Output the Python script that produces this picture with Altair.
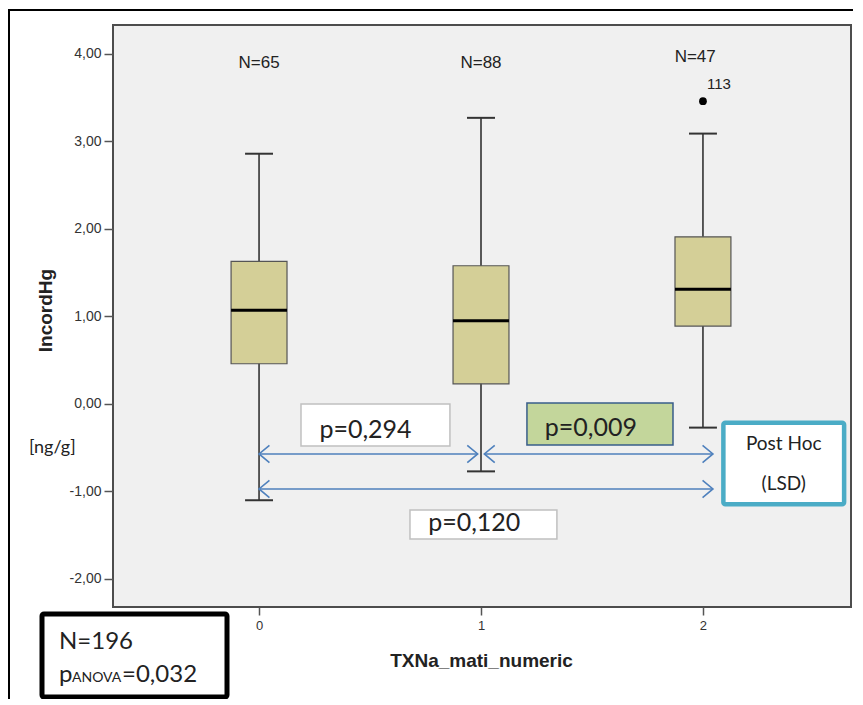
import altair as alt
import pandas as pd

# ---------------- data ----------------
groups = [0, 1, 2]
n_labels = ["N=65", "N=88", "N=47"]
whisker_low = [-1.10, -0.77, -0.27]
q1 = [0.46, 0.23, 0.89]
median = [1.07, 0.95, 1.31]
q3 = [1.63, 1.58, 1.91]
whisker_high = [2.86, 3.27, 3.09]

outlier_group = [2]
outlier_value = [3.46]
outlier_label = ["113"]

y_ticks = [-2, -1, 0, 1, 2, 3, 4]
x_ticks = [0, 1, 2]

pvalue_labels = ["p=0,294", "p=0,009", "p=0,120"]
comparison_from = [0, 1, 0]
comparison_to = [1, 2, 2]
total_n = "N=196"
anova_p = "=0,032"

# ---------------- layout constants (data units) ----------------
X_DOMAIN = [-0.658, 2.667]
Y_DOMAIN = [-2.32, 4.331]
BOX_HALF = 0.126
CAP_HALF = 0.063
n_label_x = [0.0, 1.0, 1.965]
n_label_y = [3.90, 3.90, 3.97]
pbox_x1 = [0.189, 1.207, 0.680]
pbox_x2 = [0.860, 1.865, 1.342]
pbox_y1 = [0.0, 0.011, -1.211]
pbox_y2 = [-0.48, -0.469, -1.543]
ptext_x = [0.272, 1.287, 0.762]
ptext_y = [-0.30, -0.28, -1.36]
pbox_fill = ["#ffffff", "#c3d69b", "#ffffff"]
pbox_stroke = ["#c0c0c0", "#385d8a", "#c0c0c0"]
arrow_y = [-0.571, -0.571, -0.971]
arrow_x_start = [0.0, 1.015, 0.0]
arrow_x_end = [0.985, 2.045, 2.045]

FONT = "Liberation Sans"
CAL = "Lato"
BLUE = "#4f81bd"

xs = alt.Scale(domain=X_DOMAIN, nice=False, zero=False)
ys = alt.Scale(domain=Y_DOMAIN, nice=False, zero=False)

box_df = pd.DataFrame({
    "group": groups, "lo": whisker_low, "q1": q1, "med": median,
    "q3": q3, "hi": whisker_high, "n": n_labels,
    "nx": n_label_x, "ny": n_label_y,
})
box_df["xl"] = box_df["group"] - BOX_HALF
box_df["xr"] = box_df["group"] + BOX_HALF
box_df["cl"] = box_df["group"] - CAP_HALF
box_df["cr"] = box_df["group"] + CAP_HALF

base = alt.Chart(box_df)

whisker = base.mark_rule(color="#333333", strokeWidth=1.6).encode(
    x=alt.X("group:Q", scale=xs, axis=alt.Axis(
        values=x_ticks, format="d", title="TXNa_mati_numeric",
        tickSize=8, tickColor="#555555", tickWidth=1.5, domain=False, grid=False,
        labelFont=FONT, labelFontSize=13, labelColor="#333333", labelPadding=4,
        titleFont=FONT, titleFontSize=19, titleFontWeight="bold", titleColor="#222222",
        titleX=368, titleY=53, titleBaseline="middle", titleAlign="center")),
    y=alt.Y("lo:Q", scale=ys, axis=alt.Axis(
        values=y_ticks, title="IncordHg",
        labelExpr="(datum.value < 0 ? '-' : '') + replace(format(abs(datum.value), '.2f'), '.', ',')",
        tickSize=9, tickColor="#555555", tickWidth=1.5, domain=False, grid=False,
        labelFont=FONT, labelFontSize=14, labelColor="#333333", labelPadding=3,
        titleFont=FONT, titleFontSize=19, titleFontWeight="bold", titleColor="#222222",
        titleX=-68, titleY=285, titleAngle=-90, titleBaseline="middle", titleAlign="center")),
    y2="hi:Q",
)
cap_lo = base.mark_rule(color="#333333", strokeWidth=2).encode(
    x=alt.X("cl:Q", scale=xs), x2="cr:Q", y=alt.Y("lo:Q", scale=ys))
cap_hi = base.mark_rule(color="#333333", strokeWidth=2).encode(
    x=alt.X("cl:Q", scale=xs), x2="cr:Q", y=alt.Y("hi:Q", scale=ys))
boxes = base.mark_rect(fill="#d4cf97", stroke="#555555", strokeWidth=1.2).encode(
    x=alt.X("xl:Q", scale=xs), x2="xr:Q", y=alt.Y("q1:Q", scale=ys), y2="q3:Q")
med = base.mark_rule(color="#000000", strokeWidth=3).encode(
    x=alt.X("xl:Q", scale=xs), x2="xr:Q", y=alt.Y("med:Q", scale=ys))
ntext = base.mark_text(font=FONT, fontSize=17, color="#222222", baseline="middle").encode(
    x=alt.X("nx:Q", scale=xs), y=alt.Y("ny:Q", scale=ys), text="n:N")

out_df = pd.DataFrame({"g": outlier_group, "v": outlier_value, "lab": outlier_label})
outlier = alt.Chart(out_df).mark_point(filled=True, color="#000000", size=60, opacity=1).encode(
    x=alt.X("g:Q", scale=xs), y=alt.Y("v:Q", scale=ys))
outlier_txt = alt.Chart(out_df).mark_text(font=FONT, fontSize=15, color="#222222",
                                          align="left", dx=4, dy=-17).encode(
    x=alt.X("g:Q", scale=xs), y=alt.Y("v:Q", scale=ys), text="lab:N")

# ---------- p-value annotation boxes ----------
p_df = pd.DataFrame({
    "label": pvalue_labels, "x1": pbox_x1, "x2": pbox_x2, "y1": pbox_y1, "y2": pbox_y2,
    "tx": ptext_x, "ty": ptext_y, "fill": pbox_fill, "stroke": pbox_stroke,
})
p_rect = alt.Chart(p_df).mark_rect(strokeWidth=1.5).encode(
    x=alt.X("x1:Q", scale=xs), x2="x2:Q", y=alt.Y("y1:Q", scale=ys), y2="y2:Q",
    fill=alt.Fill("fill:N", scale=None), stroke=alt.Stroke("stroke:N", scale=None))
p_text = alt.Chart(p_df).mark_text(font=CAL, fontSize=25, color="#222222",
                                   align="left", baseline="middle").encode(
    x=alt.X("tx:Q", scale=xs), y=alt.Y("ty:Q", scale=ys), text="label:N")

# ---------- arrows ----------
a_df = pd.DataFrame({"x1": arrow_x_start, "x2": arrow_x_end, "y": arrow_y,
                     "frm": comparison_from, "to": comparison_to})
a_line = alt.Chart(a_df).mark_rule(color=BLUE, strokeWidth=1.6).encode(
    x=alt.X("x1:Q", scale=xs), x2="x2:Q", y=alt.Y("y:Q", scale=ys))
a_right = alt.Chart(a_df).mark_point(
    shape="M-1.2,-1L0,0L-1.2,1", filled=False, color=BLUE, strokeWidth=1.6,
    size=300, opacity=1).encode(x=alt.X("x2:Q", scale=xs), y=alt.Y("y:Q", scale=ys))
a_left = alt.Chart(a_df).mark_point(
    shape="M1.2,-1L0,0L1.2,1", filled=False, color=BLUE, strokeWidth=1.6,
    size=300, opacity=1).encode(x=alt.X("x1:Q", scale=xs), y=alt.Y("y:Q", scale=ys))

# ---------- Post Hoc box ----------
ph_df = pd.DataFrame({"x1": [2.092], "x2": [2.636], "y1": [-0.215], "y2": [-1.145]})
ph_rect = alt.Chart(ph_df).mark_rect(fill="#ffffff", stroke="#4bacc6", strokeWidth=4.5,
                                     cornerRadius=2).encode(
    x=alt.X("x1:Q", scale=xs), x2="x2:Q", y=alt.Y("y1:Q", scale=ys), y2="y2:Q")
ph_txt_df = pd.DataFrame({"t": ["Post Hoc", "(LSD)"], "x": [2.364, 2.364], "y": [-0.455, -0.91]})
ph_txt = alt.Chart(ph_txt_df).mark_text(font=CAL, fontSize=19, color="#222222",
                                        baseline="middle").encode(
    x=alt.X("x:Q", scale=xs), y=alt.Y("y:Q", scale=ys), text="t:N")

# ---------- decorations outside the plot (pixel positions) ----------
one = alt.Data(values=[{"k": 0}])
frame = alt.Chart(one).mark_rect(fill="transparent", stroke="#000000", strokeWidth=2).encode(
    x=alt.value(-104), x2=alt.value(748), y=alt.value(-15), y2=alt.value(720))
nbox = alt.Chart(one).mark_rect(fill="#ffffff", stroke="#000000", strokeWidth=5,
                                cornerRadius=2).encode(
    x=alt.value(-71), x2=alt.value(114), y=alt.value(589), y2=alt.value(672))
ntot = alt.Chart(one).mark_text(font=CAL, fontSize=24, color="#222222", align="left",
                                baseline="alphabetic").encode(
    x=alt.value(-54), y=alt.value(624), text=alt.value(total_n))
p_small = alt.Chart(one).mark_text(font=CAL, fontSize=24, color="#222222", align="left",
                                   baseline="alphabetic").encode(
    x=alt.value(-54), y=alt.value(657), text=alt.value("p"))
anova_small = alt.Chart(one).mark_text(font=CAL, fontSize=14, color="#222222", align="left",
                                       baseline="alphabetic").encode(
    x=alt.value(-41), y=alt.value(657), text=alt.value("ANOVA"))
anova_val = alt.Chart(one).mark_text(font=CAL, fontSize=24, color="#222222", align="left",
                                     baseline="alphabetic").encode(
    x=alt.value(9), y=alt.value(657), text=alt.value(anova_p))
unit = alt.Chart(one).mark_text(font=CAL, fontSize=18, color="#222222", align="left",
                                baseline="middle").encode(
    x=alt.value(-84), y=alt.value(423), text=alt.value("[ng/g]"))

chart = alt.layer(
    whisker, cap_lo, cap_hi, boxes, med, ntext, outlier, outlier_txt,
    p_rect, p_text, a_line, a_right, a_left, ph_rect, ph_txt,
    frame, nbox, ntot, p_small, anova_small, anova_val, unit,
).properties(
    width=738, height=582,
    autosize=alt.AutoSizeParams(type="none"),
    padding={"left": 105, "top": 17, "right": 2, "bottom": 92},
    background="#ffffff",
).configure_view(fill="#f0f0f0", stroke="#4d4d4d", strokeWidth=2)

chart.save("out.html", embed_options={"renderer": "svg", "actions": False})
